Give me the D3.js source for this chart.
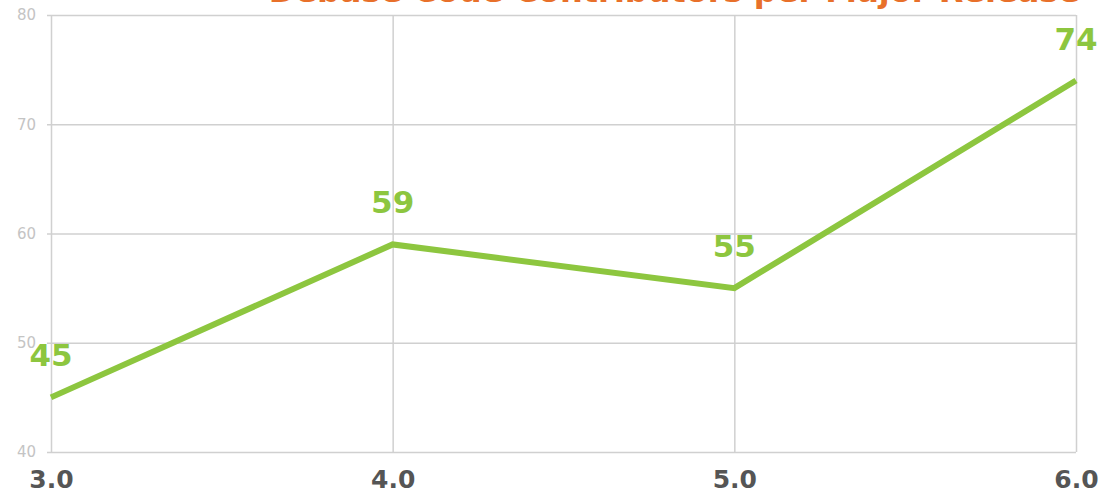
<!DOCTYPE html>
<html><head><meta charset="utf-8">
<script src="https://cdn.jsdelivr.net/npm/d3@7"></script>
<style>body{margin:0;background:#fff}svg{display:block}</style>
</head><body>
<svg id="c" width="1100" height="494"></svg>
<script>
const releases = ["3.0", "4.0", "5.0", "6.0"];
const contributors = [45, 59, 55, 74];
const yTicks = [40, 50, 60, 70, 80];
const title = "Debase Code Contributors per Major Release";

const svg = d3.select("#c");
const m = {l: 51, r: 24, t: 15, b: 42};
const W = 1100, H = 494;
const x = d3.scalePoint().domain(releases).range([m.l, W - m.r]);
const y = d3.scaleLinear().domain([40, 80]).range([H - m.b, m.t]);

// grid
const gy = svg.append("g").attr("transform", `translate(${m.l},0)`)
  .call(d3.axisLeft(y).tickValues(yTicks).tickSize(-(W - m.r - m.l)).tickPadding(15).tickFormat(d3.format("d")));
gy.select(".domain").remove();
gy.selectAll(".tick line").attr("stroke", "#d0d0d0").attr("stroke-width", 1.5).attr("x1", -4);
gy.selectAll(".tick text").attr("fill", "#c4c4c4").attr("font-family", "'DejaVu Sans', sans-serif").attr("font-size", 15);

const gx = svg.append("g").attr("transform", `translate(0,${H - m.b})`)
  .call(d3.axisBottom(x).tickSize(-(H - m.b - m.t)).tickPadding(18));
gx.select(".domain").remove();
gx.selectAll(".tick line").attr("stroke", "#d0d0d0").attr("stroke-width", 1.5);
gx.selectAll(".tick text").attr("fill", "#555555").attr("font-family", "'DejaVu Sans', sans-serif")
  .attr("font-size", 25).attr("font-weight", "bold");

// line
const data = releases.map((r, i) => ({r, v: contributors[i]}));
svg.append("path").datum(data)
  .attr("fill", "none").attr("stroke", "#8dc63f").attr("stroke-width", 6)
  .attr("stroke-linejoin", "miter")
  .attr("d", d3.line().x(d => x(d.r)).y(d => y(d.v)));

svg.append("g").selectAll("text").data(data).join("text")
  .attr("x", d => x(d.r)).attr("y", d => y(d.v) - 31)
  .attr("text-anchor", "middle").attr("fill", "#8dc63f")
  .attr("font-family", "'DejaVu Sans', sans-serif").attr("font-weight", "bold").attr("font-size", 31)
  .text(d => d.v);

svg.append("text").attr("x", 1080).attr("y", 2).attr("text-anchor", "end")
  .attr("fill", "#e8702a").attr("font-family", "'DejaVu Sans', sans-serif")
  .attr("font-weight", "bold").attr("font-size", 32).text(title);
</script>
</body></html>
